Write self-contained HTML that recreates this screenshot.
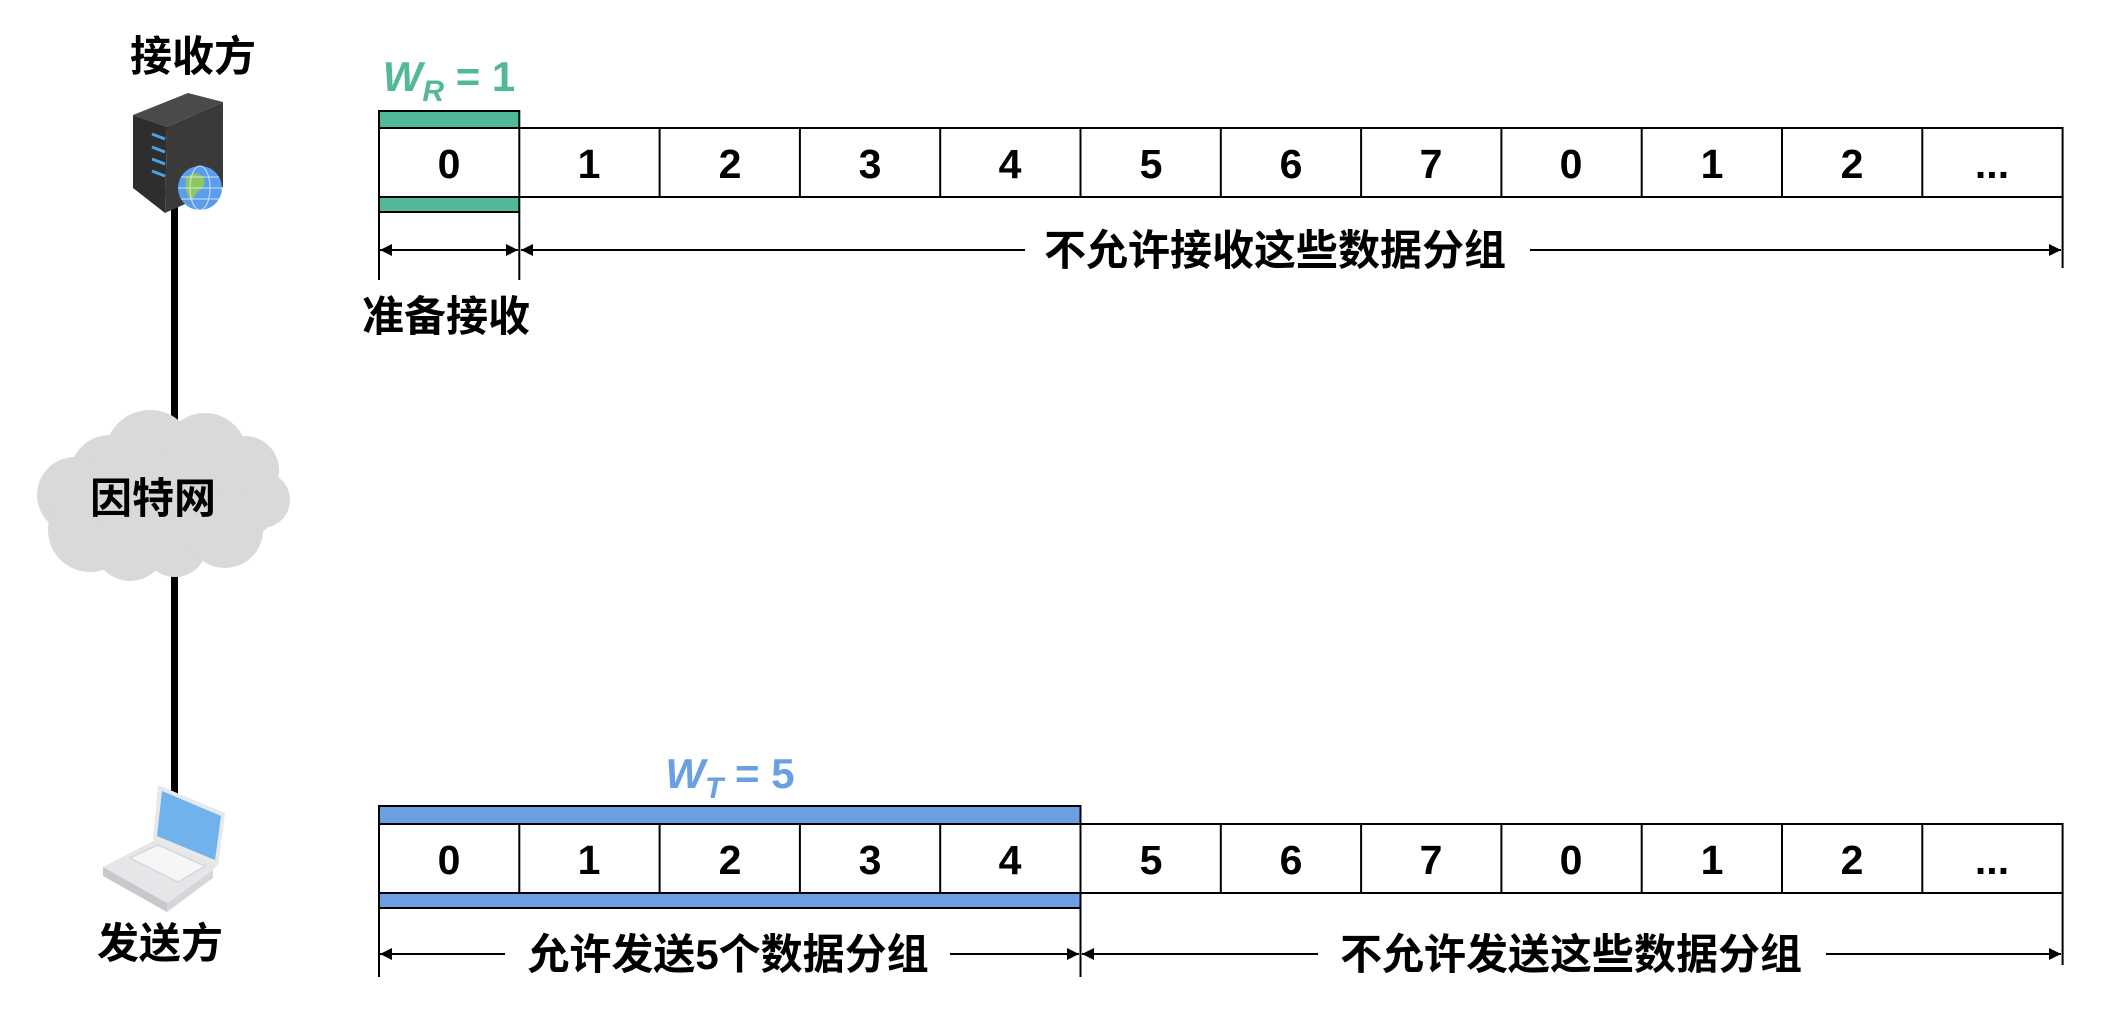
<!DOCTYPE html>
<html><head><meta charset="utf-8"><style>
html,body{margin:0;padding:0;background:#fff;}
svg{display:block;}
text{font-family:"Liberation Sans","Noto Sans CJK SC",sans-serif;font-weight:bold;}
</style></head><body>
<svg width="2110" height="1020" viewBox="0 0 2110 1020" xmlns="http://www.w3.org/2000/svg">
<defs>
<marker id="ar" viewBox="0 0 10 10" refX="10" refY="5" markerWidth="12" markerHeight="12" markerUnits="userSpaceOnUse" orient="auto-start-reverse"><path d="M0,0 L10,5 L0,10 z" fill="#000"/></marker>
</defs>
<rect x="171" y="205" width="7" height="590" fill="#000"/>
<g fill="#d9d9d9">
<ellipse cx="162" cy="500" rx="120" ry="58"/>
<circle cx="110" cy="475" r="40"/><circle cx="150" cy="455" r="45"/><circle cx="205" cy="455" r="42"/><circle cx="245" cy="470" r="34"/><circle cx="262" cy="500" r="28"/>
<circle cx="75" cy="495" r="38"/><circle cx="90" cy="530" r="42"/><circle cx="130" cy="545" r="36"/><circle cx="175" cy="545" r="32"/><circle cx="225" cy="530" r="38"/>
</g>
<text x="153" y="513" font-size="42" text-anchor="middle">因特网</text>
<polygon points="133,115 188,93 223,102 167,127" fill="#4a4a4a"/>
<polygon points="133,115 167,127 165,213 133,188" fill="#2e2e2e"/>
<polygon points="167,127 223,102 223,187 165,213" fill="#3a3a3a"/>
<g stroke="#4aa3e6" stroke-width="3"><line x1="152" y1="134" x2="165" y2="139"/><line x1="152" y1="147" x2="165" y2="152"/><line x1="152" y1="159" x2="165" y2="164"/><line x1="152" y1="171" x2="165" y2="176"/></g>
<circle cx="200" cy="188" r="22" fill="#5b9ded"/>
<path d="M186,178 q8,-8 16,-2 q6,8 -2,14 q-6,4 -8,12 q-8,-8 -6,-24z" fill="#8dc95a"/>
<g stroke="#cfe3ff" stroke-width="1" fill="none"><ellipse cx="200" cy="188" rx="10" ry="22"/><line x1="178" y1="188" x2="222" y2="188"/><line x1="181" y1="177" x2="219" y2="177"/><line x1="181" y1="199" x2="219" y2="199"/></g>
<text x="193" y="71" font-size="42" text-anchor="middle">接收方</text>
<polygon points="103,867 155,840 218,863 213,870 167,903" fill="#e6e6e8"/>
<polygon points="103,867 167,903 167,912 103,876" fill="#c8c8cc"/>
<polygon points="167,903 213,870 213,878 167,912" fill="#d6d6da"/>
<polygon points="158,785 225,813 218,866 153,840" fill="#e8e8ea"/>
<polygon points="162,791 221,816 215,860 157,836" fill="#6fb2ec"/>
<polygon points="130,858 158,845 205,866 178,882" fill="#f6f6f8" stroke="#cfcfd4"/>
<text x="160" y="958" font-size="42" text-anchor="middle">发送方</text>

<g fill="none" stroke="#000" stroke-width="2">
<rect x="379" y="128" width="1683.6" height="69" />
<line x1="519.3" y1="128" x2="519.3" y2="197"/><line x1="659.6" y1="128" x2="659.6" y2="197"/><line x1="799.9" y1="128" x2="799.9" y2="197"/><line x1="940.2" y1="128" x2="940.2" y2="197"/><line x1="1080.5" y1="128" x2="1080.5" y2="197"/><line x1="1220.8" y1="128" x2="1220.8" y2="197"/><line x1="1361.1" y1="128" x2="1361.1" y2="197"/><line x1="1501.4" y1="128" x2="1501.4" y2="197"/><line x1="1641.7" y1="128" x2="1641.7" y2="197"/><line x1="1782" y1="128" x2="1782" y2="197"/><line x1="1922.3" y1="128" x2="1922.3" y2="197"/>
</g>
<rect x="379" y="111" width="140.3" height="17" fill="#52b89a" stroke="#000" stroke-width="2"/>
<rect x="379" y="197" width="140.3" height="15" fill="#52b89a" stroke="#000" stroke-width="2"/>
<g font-size="41" text-anchor="middle">
<text x="449" y="178">0</text><text x="589" y="178">1</text><text x="730" y="178">2</text><text x="870" y="178">3</text><text x="1010" y="178">4</text><text x="1151" y="178">5</text><text x="1291" y="178">6</text><text x="1431" y="178">7</text><text x="1571" y="178">0</text><text x="1712" y="178">1</text><text x="1852" y="178">2</text><text x="1992" y="178">...</text>
</g>
<text x="449" y="91" font-size="42" text-anchor="middle" fill="#52b89a" font-family="Liberation Serif,serif" font-style="italic">W<tspan font-size="30" dy="10">R</tspan><tspan font-style="normal" dy="-10"> = 1</tspan></text>
<g stroke="#000" stroke-width="2">
<line x1="379" y1="197" x2="379" y2="280"/><line x1="519.3" y1="212" x2="519.3" y2="280"/><line x1="2062.6" y1="197" x2="2062.6" y2="268"/>
<line x1="380" y1="250" x2="518" y2="250" marker-start="url(#ar)" marker-end="url(#ar)"/>
<line x1="521" y1="250" x2="1025" y2="250" marker-start="url(#ar)"/>
<line x1="1530" y1="250" x2="2061" y2="250" marker-end="url(#ar)"/>
</g>
<text x="1275" y="265" font-size="42" text-anchor="middle">不允许接收这些数据分组</text>
<text x="446" y="331" font-size="42" text-anchor="middle">准备接收</text>

<g fill="none" stroke="#000" stroke-width="2">
<rect x="379" y="824" width="1683.6" height="69" />
<line x1="519.3" y1="824" x2="519.3" y2="893"/><line x1="659.6" y1="824" x2="659.6" y2="893"/><line x1="799.9" y1="824" x2="799.9" y2="893"/><line x1="940.2" y1="824" x2="940.2" y2="893"/><line x1="1080.5" y1="824" x2="1080.5" y2="893"/><line x1="1220.8" y1="824" x2="1220.8" y2="893"/><line x1="1361.1" y1="824" x2="1361.1" y2="893"/><line x1="1501.4" y1="824" x2="1501.4" y2="893"/><line x1="1641.7" y1="824" x2="1641.7" y2="893"/><line x1="1782" y1="824" x2="1782" y2="893"/><line x1="1922.3" y1="824" x2="1922.3" y2="893"/>
</g>
<rect x="379" y="806" width="701.5" height="18" fill="#6aa0e3" stroke="#000" stroke-width="2"/>
<rect x="379" y="893" width="701.5" height="15" fill="#6aa0e3" stroke="#000" stroke-width="2"/>
<g font-size="41" text-anchor="middle">
<text x="449" y="874">0</text><text x="589" y="874">1</text><text x="730" y="874">2</text><text x="870" y="874">3</text><text x="1010" y="874">4</text><text x="1151" y="874">5</text><text x="1291" y="874">6</text><text x="1431" y="874">7</text><text x="1571" y="874">0</text><text x="1712" y="874">1</text><text x="1852" y="874">2</text><text x="1992" y="874">...</text>
</g>
<text x="730" y="788" font-size="42" text-anchor="middle" fill="#6aa0e3" font-family="Liberation Serif,serif" font-style="italic">W<tspan font-size="30" dy="10">T</tspan><tspan font-style="normal" dy="-10"> = 5</tspan></text>
<g stroke="#000" stroke-width="2">
<line x1="379" y1="893" x2="379" y2="977"/><line x1="1080.5" y1="908" x2="1080.5" y2="977"/><line x1="2062.6" y1="893" x2="2062.6" y2="965"/>
<line x1="380" y1="954" x2="505" y2="954" marker-start="url(#ar)"/>
<line x1="950" y1="954" x2="1079" y2="954" marker-end="url(#ar)"/>
<line x1="1082" y1="954" x2="1318" y2="954" marker-start="url(#ar)"/>
<line x1="1826" y1="954" x2="2061" y2="954" marker-end="url(#ar)"/>
</g>
<text x="728" y="969" font-size="42" text-anchor="middle">允许发送5个数据分组</text>
<text x="1571" y="969" font-size="42" text-anchor="middle">不允许发送这些数据分组</text>
</svg>
</body></html>
